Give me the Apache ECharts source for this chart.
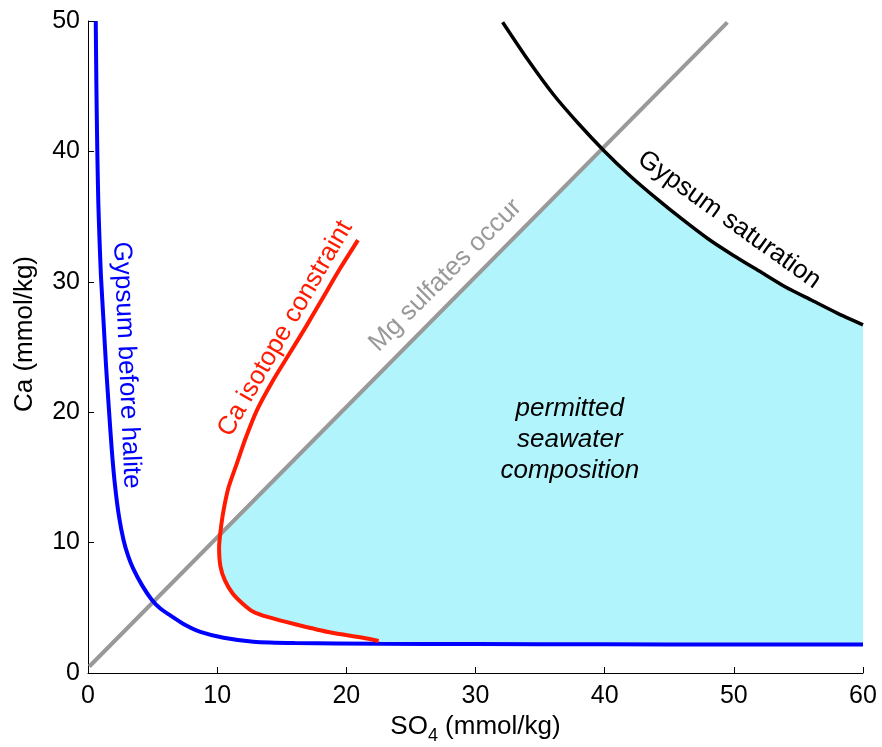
<!DOCTYPE html>
<html><head><meta charset="utf-8">
<script src="https://cdn.jsdelivr.net/npm/echarts@6/dist/echarts.min.js"></script>
<style>html,body{margin:0;padding:0;background:#fff}#c{width:882px;height:747px}</style>
</head><body><div id="c"></div>
<script>
// ---- data ----
const xTicks = [0, 10, 20, 30, 40, 50, 60];
const yTicks = [0, 10, 20, 30, 40, 50];
const gypsumBeforeHalite = [[0.6,50],[0.65,45],[0.72,40],[0.8,36],[0.9,33],[1.0,30.5],[1.2,27],[1.4,23.5],[1.6,20.5],[1.85,17],[2.1,14.3],[2.4,12],[2.75,10.2],[3.1,9],[3.5,8.0],[4.2,6.7],[4.95,5.6],[5.6,4.95],[6.4,4.4],[7.5,3.7],[8.7,3.15],[10.5,2.7],[12.8,2.4],[16,2.3],[22.6,2.25],[30,2.22],[40,2.2],[50,2.19],[60,2.18]];
const caIsotope = [[20.9,33.2],[19.5,31.0],[18.2,28.8],[16.9,26.6],[15.6,24.5],[14.3,22.4],[13.1,20.2],[12.2,18.0],[11.5,16.0],[10.9,14.3],[10.5,12.5],[10.25,10.8],[10.15,9.6],[10.25,8.2],[10.6,7.1],[11.2,6.1],[12.0,5.3],[12.8,4.7],[13.9,4.3],[16.2,3.7],[18.8,3.1],[21.3,2.7],[22.5,2.45]];
const mgSulfates = [[0.1,0.5],[49.5,49.9]];
const gypsumSaturation = [[32.1,49.9],[34,47.1],[36,44.4],[38,42.1],[40,40.0],[42,38.1],[44,36.4],[46,34.8],[48,33.3],[50,32.0],[52,30.8],[54,29.6],[56,28.6],[58,27.6],[60,26.7]];

// ---- helpers ----
function segInt(a, b, c, d) {
  const r = [b[0]-a[0], b[1]-a[1]], s = [d[0]-c[0], d[1]-c[1]];
  const den = r[0]*s[1] - r[1]*s[0];
  if (!den) return null;
  const t = ((c[0]-a[0])*s[1] - (c[1]-a[1])*s[0]) / den;
  const u = ((c[0]-a[0])*r[1] - (c[1]-a[1])*r[0]) / den;
  if (t >= 0 && t <= 1 && u >= 0 && u <= 1) return [a[0]+t*r[0], a[1]+t*r[1]];
  return null;
}
function firstCross(line, other) {
  for (let i = 0; i < line.length-1; i++) for (let j = 0; j < other.length-1; j++) {
    const p = segInt(line[i], line[i+1], other[j], other[j+1]);
    if (p) return {p, i};
  }
  return null;
}
// permitted region: bounded by the curves above
const c1 = firstCross(caIsotope, mgSulfates);
const c2 = firstCross(gypsumSaturation, mgSulfates);
const redEnd = caIsotope[caIsotope.length-1];
const fillPts = [c1.p]
  .concat(caIsotope.slice(c1.i+1))
  .concat(gypsumBeforeHalite.filter(p => p[0] > redEnd[0]))
  .concat(gypsumSaturation.filter(p => p[0] > c2.p[0]).reverse())
  .concat([c2.p]);

const FF = '"Liberation Sans", Arial, Helvetica, sans-serif';
const chart = echarts.init(document.getElementById('c'), null, {renderer: 'canvas'});
const axisCommon = {
  type: 'value',
  axisLine: {show: true, onZero: false, lineStyle: {color: '#000', width: 1}},
  axisTick: {show: true, inside: true, length: 6, lineStyle: {color: '#000', width: 1}},
  splitLine: {show: false},
  axisLabel: {color: '#000', fontSize: 25, fontFamily: FF},
  nameLocation: 'middle'
};
chart.setOption({
  animation: false,
  backgroundColor: '#fff',
  grid: {left: 88, right: 19, top: 21, bottom: 74, containLabel: false, outerBoundsMode: 'none'},
  xAxis: Object.assign({}, axisCommon, {
    min: xTicks[0], max: xTicks[xTicks.length-1], interval: xTicks[1]-xTicks[0],
    axisLabel: Object.assign({}, axisCommon.axisLabel, {margin: 11}),
    name: '{a|SO}{b|4}{a| (mmol/kg)}',
    nameGap: 30,
    nameTextStyle: {color: '#000', fontSize: 26, fontFamily: FF, rich: {
      a: {fontSize: 26, fontFamily: FF, color: '#000', lineHeight: 26, verticalAlign: 'top'},
      b: {fontSize: 18, fontFamily: FF, color: '#000', lineHeight: 44, verticalAlign: 'middle'}
    }}
  }),
  yAxis: Object.assign({}, axisCommon, {
    min: yTicks[0], max: yTicks[yTicks.length-1], interval: yTicks[1]-yTicks[0],
    axisLabel: Object.assign({}, axisCommon.axisLabel, {margin: 8}),
    name: 'Ca (mmol/kg)',
    nameGap: 50,
    nameTextStyle: {color: '#000', fontSize: 26, fontFamily: FF, padding: [0, 0, 0, 26]}
  }),
  series: [
    {type: 'custom', silent: true, z: 1, data: [[0, 0]],
     renderItem: (params, api) => ({type: 'polygon', shape: {points: fillPts.map(p => api.coord(p))}, style: {fill: '#b2f4fc'}})},
    {type: 'line', data: mgSulfates, symbol: 'none', silent: true, z: 2, lineStyle: {color: '#999999', width: 4}},
    {type: 'line', data: gypsumBeforeHalite, symbol: 'none', smooth: 0.2, silent: true, z: 3, lineStyle: {color: '#0000ff', width: 4}},
    {type: 'line', data: caIsotope, symbol: 'none', smooth: 0.2, silent: true, z: 3, lineStyle: {color: '#ff1a00', width: 4}},
    {type: 'line', data: gypsumSaturation, symbol: 'none', smooth: 0.2, silent: true, z: 4, lineStyle: {color: '#000000', width: 3.5}}
  ]
});

// annotations anchored in data coordinates
const annotations = [
  {text: 'Gypsum before halite', at: [2.98, 23.6], rot: -87.5, color: '#0000ff'},
  {text: 'Ca isotope constraint', at: [15.27, 26.4], rot: 60, color: '#ff1a00'},
  {text: 'Mg sulfates occur', at: [27.67, 30.5], rot: 45, color: '#999999'},
  {text: 'Gypsum saturation', at: [49.64, 34.75], rot: -35.5, color: '#000000'},
  {text: 'permitted\nseawater\ncomposition', at: [37.3, 17.9], rot: 0, color: '#000000', italic: true}
];
chart.setOption({
  graphic: annotations.map(a => {
    const px = chart.convertToPixel({gridIndex: 0}, a.at);
    return {type: 'text', x: px[0], y: px[1], rotation: a.rot * Math.PI / 180, z: 20, silent: true,
      style: {text: a.text, fill: a.color, fontSize: 26, fontFamily: FF, fontStyle: a.italic ? 'italic' : 'normal',
        lineHeight: 31, textAlign: 'center', textVerticalAlign: 'middle', align: 'center', verticalAlign: 'middle'}};
  })
});
</script></body></html>
